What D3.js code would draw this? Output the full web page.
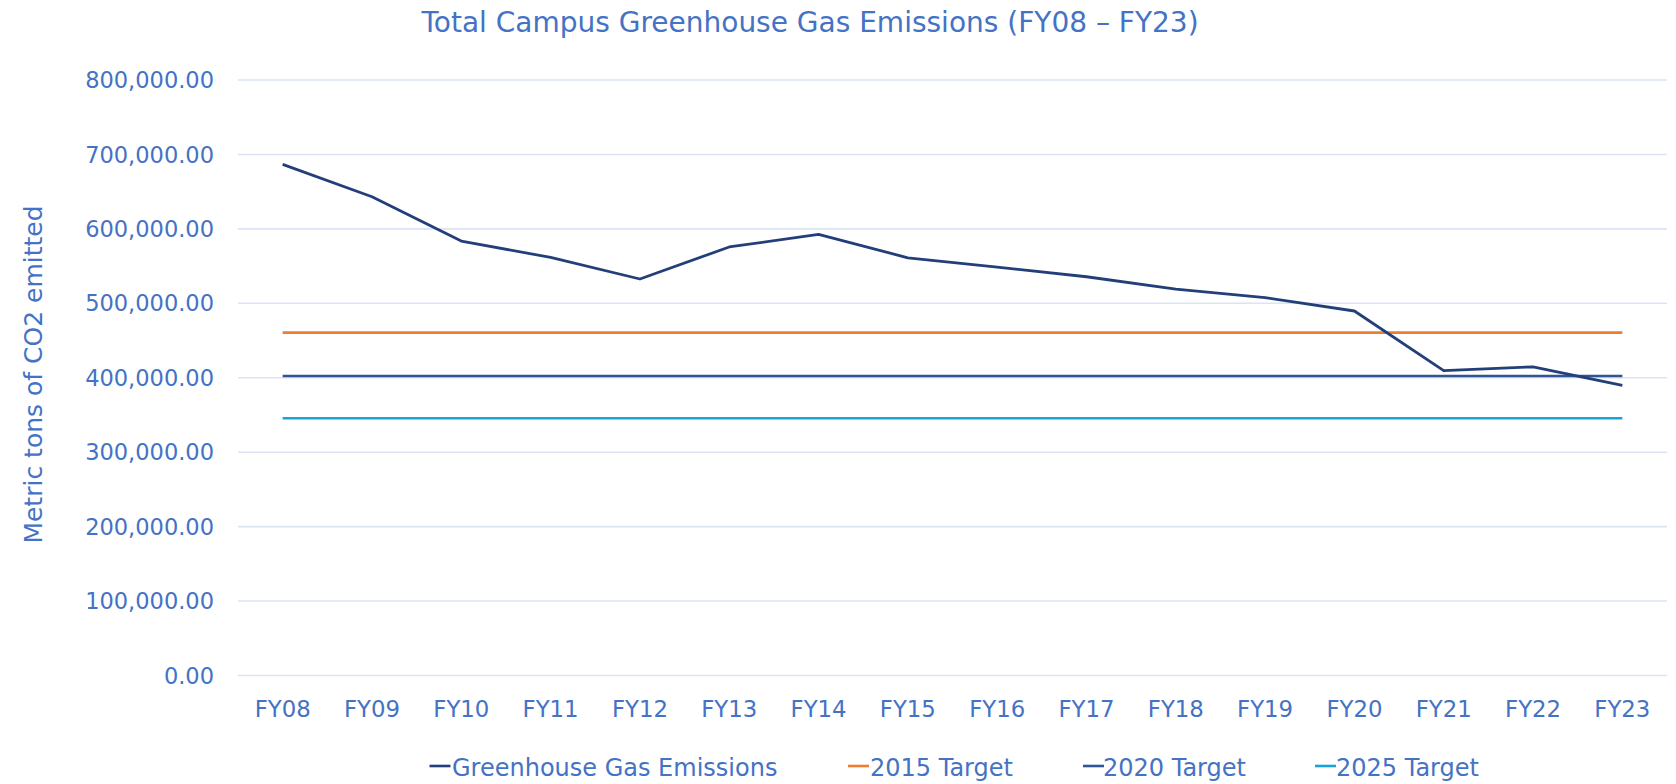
<!DOCTYPE html>
<html>
<head>
<meta charset="utf-8">
<script src="https://cdn.jsdelivr.net/npm/d3@7/dist/d3.min.js"></script>
<style>
  html, body { margin: 0; padding: 0; background: #fff; }
  svg { display: block; }
  text { font-family: "DejaVu Sans", sans-serif; fill: #4472C4; }
</style>
</head>
<body>
<svg id="chart" width="1676" height="784"></svg>
<script>
const categories = ["FY08","FY09","FY10","FY11","FY12","FY13","FY14","FY15","FY16","FY17","FY18","FY19","FY20","FY21","FY22","FY23"];
const emissions = [686000, 642500, 583000, 561000, 532000, 575000, 592000, 560500, 548000, 535000, 518500, 507000, 489000, 409000, 414000, 389000];
const target2015 = [460000,460000,460000,460000,460000,460000,460000,460000,460000,460000,460000,460000,460000,460000,460000,460000];
const target2020 = [401700,401700,401700,401700,401700,401700,401700,401700,401700,401700,401700,401700,401700,401700,401700,401700];
const target2025 = [345000,345000,345000,345000,345000,345000,345000,345000,345000,345000,345000,345000,345000,345000,345000,345000];
const yTicks = [0, 100000, 200000, 300000, 400000, 500000, 600000, 700000, 800000];
const seriesNames = ["Greenhouse Gas Emissions", "2015 Target", "2020 Target", "2025 Target"];
const seriesColors = ["#233F7A", "#ED7D31", "#2F5597", "#19A3D6"];
const titleText = "Total Campus Greenhouse Gas Emissions (FY08 \u2013 FY23)";
const yTitleText = "Metric tons of CO2 emitted";

const svg = d3.select("#chart");
const x = d3.scaleBand().domain(categories).range([238, 1667]).padding(0);
const y = d3.scaleLinear().domain([0, 800000]).range([675, 79.5]);

// gridlines + y tick labels
const yAxis = d3.axisLeft(y).tickValues(yTicks).tickSize(-(1667 - 238)).tickPadding(24)
  .tickFormat(d => d3.format(",.2f")(d));
const gy = svg.append("g").attr("transform", "translate(238,0)").call(yAxis);
gy.select(".domain").remove();
gy.selectAll(".tick line").attr("stroke", "#DCE4F3").attr("stroke-width", 1.6);
gy.selectAll(".tick text").attr("font-size", 22.5).attr("fill", "#4472C4")
  .style("font-family", "'DejaVu Sans', sans-serif").attr("x", -24).attr("dy", "0.36em");

// x axis labels
const xAxis = d3.axisBottom(x).tickSize(0).tickPadding(0);
const gx = svg.append("g").attr("transform", "translate(0,675)").call(xAxis);
gx.select(".domain").remove();
gx.selectAll(".tick text").attr("font-size", 22.8).attr("fill", "#4472C4")
  .style("font-family", "'DejaVu Sans', sans-serif").attr("dy", null).attr("y", 41.5);

const cx = d => x(d) + x.bandwidth() / 2;
const allSeries = [emissions, target2015, target2020, target2025];
const line = d3.line().x((d, i) => cx(categories[i])).y(d => y(d));

// draw targets first, emissions on top
[1, 2, 3, 0].forEach(k => {
  svg.append("path").datum(allSeries[k])
    .attr("d", line)
    .attr("fill", "none")
    .attr("stroke", seriesColors[k])
    .attr("stroke-width", k === 0 ? 2.8 : 2.6)
    .attr("stroke-linejoin", "round");
});

// title
svg.append("text").attr("x", 810).attr("y", 32).attr("text-anchor", "middle")
  .attr("font-size", 28).text(titleText);

// y-axis title
svg.append("text").attr("transform", "translate(41.5,374.5) rotate(-90)")
  .attr("text-anchor", "middle").attr("font-size", 25).text(yTitleText);

// legend
const legendItems = [
  { lx: 429.5, tx: 452 },
  { lx: 848, tx: 870 },
  { lx: 1083, tx: 1103 },
  { lx: 1315, tx: 1336 }
];
const lg = svg.append("g");
legendItems.forEach((it, i) => {
  lg.append("line").attr("x1", it.lx).attr("x2", it.lx + 21).attr("y1", 766).attr("y2", 766)
    .attr("stroke", seriesColors[i]).attr("stroke-width", 2.6);
  lg.append("text").attr("x", it.tx).attr("y", 775.5).attr("font-size", 24).text(seriesNames[i]);
});
</script>
</body>
</html>
